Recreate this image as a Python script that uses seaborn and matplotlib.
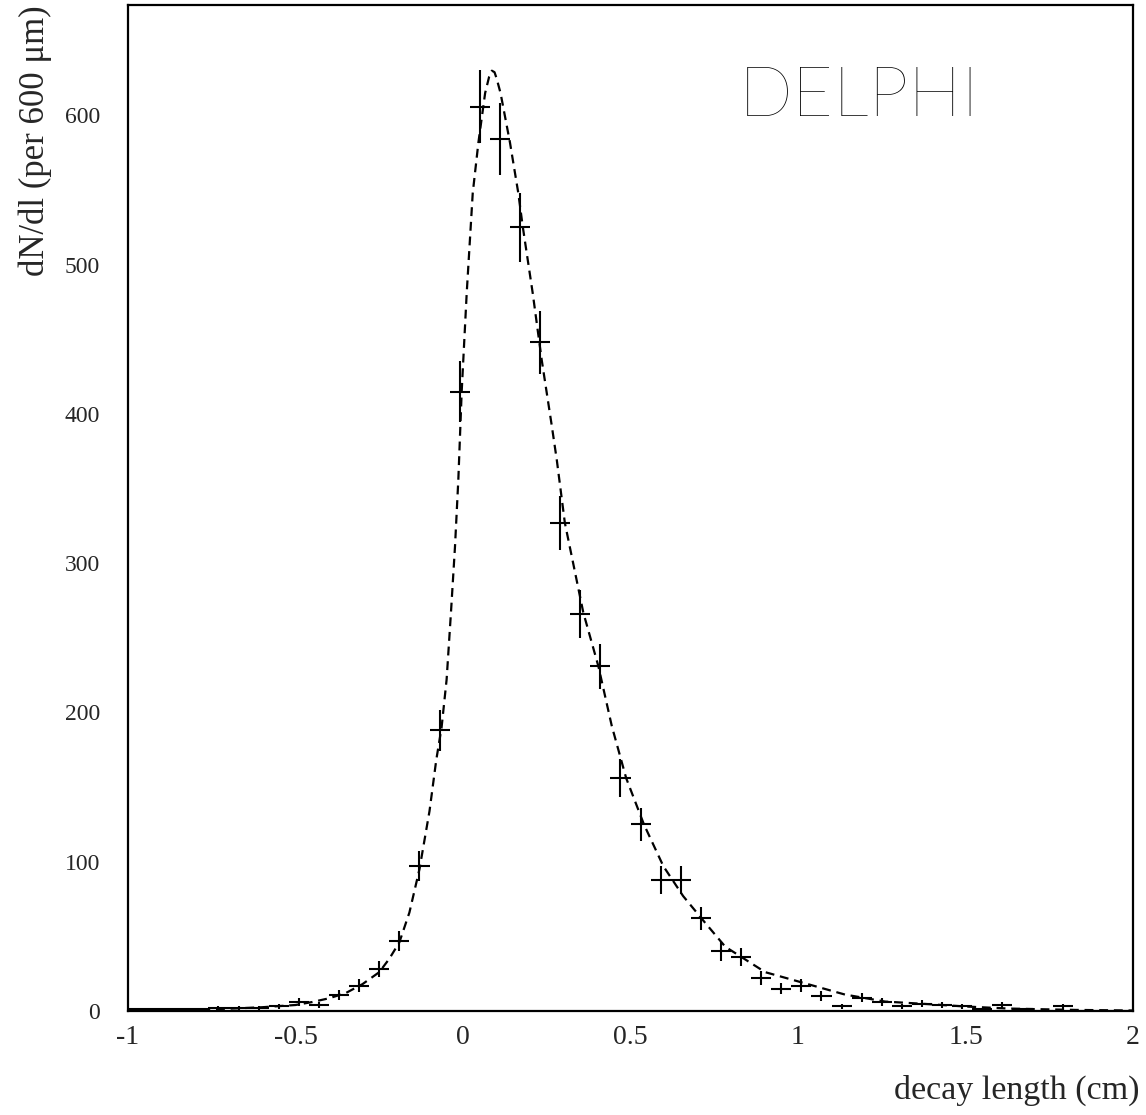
import numpy as np
import pandas as pd
import matplotlib
matplotlib.use("Agg")
import matplotlib.pyplot as plt
from matplotlib import font_manager
from matplotlib.ticker import MultipleLocator
import seaborn as sns

# bin centres (600 um bins from -1 to 2 cm)
decay_length = [-0.97, -0.91, -0.85, -0.79, -0.73, -0.67, -0.61, -0.55, -0.49, -0.43,
                -0.37, -0.31, -0.25, -0.19, -0.13, -0.07, -0.01, 0.05, 0.11, 0.17,
                0.23, 0.29, 0.35, 0.41, 0.47, 0.53, 0.59, 0.65, 0.71, 0.77,
                0.83, 0.89, 0.95, 1.01, 1.07, 1.13, 1.19, 1.25, 1.31, 1.37,
                1.43, 1.49, 1.55, 1.61, 1.67, 1.73, 1.79, 1.85, 1.91, 1.97]
counts = [1, 1, 1, 1, 2, 2, 2, 3, 6, 4,
          11, 17, 28, 47, 97, 188, 415, 606, 584, 525,
          448, 327, 266, 231, 156, 125, 88, 88, 62, 40,
          36, 22, 15, 17, 10, 3, 9, 6, 3, 5,
          4, 3, 1, 4, 1, 0, 3, 0, 0, 0]
half_bin = 0.03

# fitted curve
fit_x = [-1.0, -0.9, -0.8, -0.7, -0.6, -0.5, -0.45, -0.4, -0.35, -0.3,
         -0.25, -0.22, -0.19, -0.16, -0.13, -0.1, -0.08, -0.064, -0.049, -0.036,
         -0.024, -0.014, -0.004, 0.011, 0.029, 0.046, 0.066, 0.078, 0.086, 0.094,
         0.1, 0.112, 0.14, 0.165, 0.178, 0.208, 0.235, 0.265, 0.28, 0.304,
         0.359, 0.404, 0.444, 0.487, 0.54, 0.598, 0.657, 0.723, 0.783, 0.902,
         1.021, 1.14, 1.26, 1.38, 1.5, 1.63, 1.83, 2.0]
fit_y = [0.0, 0.5, 1.0, 1.5, 2.5, 4.0, 6.0, 8.5, 12, 18,
         26, 35, 46, 66, 95, 134, 168, 190, 222, 267,
         311, 356, 415, 481, 548, 582, 615, 626, 630, 629,
         625, 615, 582, 548, 526, 481, 436, 392, 369, 327,
         267, 231, 191, 156, 125, 97, 77, 59, 43, 26,
         18.5, 11, 6.3, 4.7, 3.0, 1.6, 0.7, 0.3]

df = pd.DataFrame({"x": decay_length, "n": counts})
df["err"] = np.sqrt(df["n"])
fit = pd.DataFrame({"x": fit_x, "y": fit_y})

sns.set_theme(style="white")
plt.rcParams["font.family"] = ["Liberation Serif", "DejaVu Serif"]
plt.rcParams["axes.unicode_minus"] = False

fig = plt.figure(figsize=(11.46, 11.15), dpi=100)
ax = fig.add_axes([0.1117, 0.0933, 0.8770, 0.9022])

sns.lineplot(data=fit, x="x", y="y", ax=ax, color="black", lw=1.6,
             linestyle=(0, (4, 2.6)), sort=False)
ax.errorbar(df["x"], df["n"], yerr=df["err"], xerr=half_bin, fmt="none",
            ecolor="black", elinewidth=1.5, capsize=0)

ax.set_xlim(-1, 2)
ax.set_ylim(0, 674)
ax.xaxis.set_minor_locator(MultipleLocator(0.1))
ax.yaxis.set_major_locator(MultipleLocator(100))
ax.yaxis.set_minor_locator(MultipleLocator(20))
ax.set_xticks([-1, -0.5, 0, 0.5, 1, 1.5, 2])
ax.set_xticklabels(["-1", "-0.5", "0", "0.5", "1", "1.5", "2"])

ax.tick_params(which="both", direction="in", color="black", width=1.0,
               top=False, right=False)
ax.tick_params(axis="x", which="both", pad=10, labelsize=20)
ax.tick_params(axis="y", which="both", pad=20, labelsize=17)
ax.tick_params(which="major", length=14)
ax.tick_params(which="minor", length=7)
for s in ax.spines.values():
    s.set_color("black")
    s.set_linewidth(1.6)

ax.set_xlabel("decay length (cm)", fontsize=24.5, loc="right", labelpad=18)
ax.xaxis.label.set_x(1.006)
ax.set_ylabel("dN/dl (per 600 \u03bcm)", fontsize=25, loc="top", labelpad=9)

# experiment tag in a hairline font
thin = [f.fname for f in font_manager.fontManager.ttflist
        if f.fname.endswith("Lato-Hairline.ttf")]
if thin:
    tag_font = font_manager.FontProperties(fname=thin[0], size=51)
else:
    tag_font = font_manager.FontProperties(family="Roboto", weight=250, size=51)
ax.text(0.608, 0.8897, "DELPHI", transform=ax.transAxes, ha="left",
        va="baseline", fontproperties=tag_font, color="black")

fig.savefig("out.png", dpi=100)
